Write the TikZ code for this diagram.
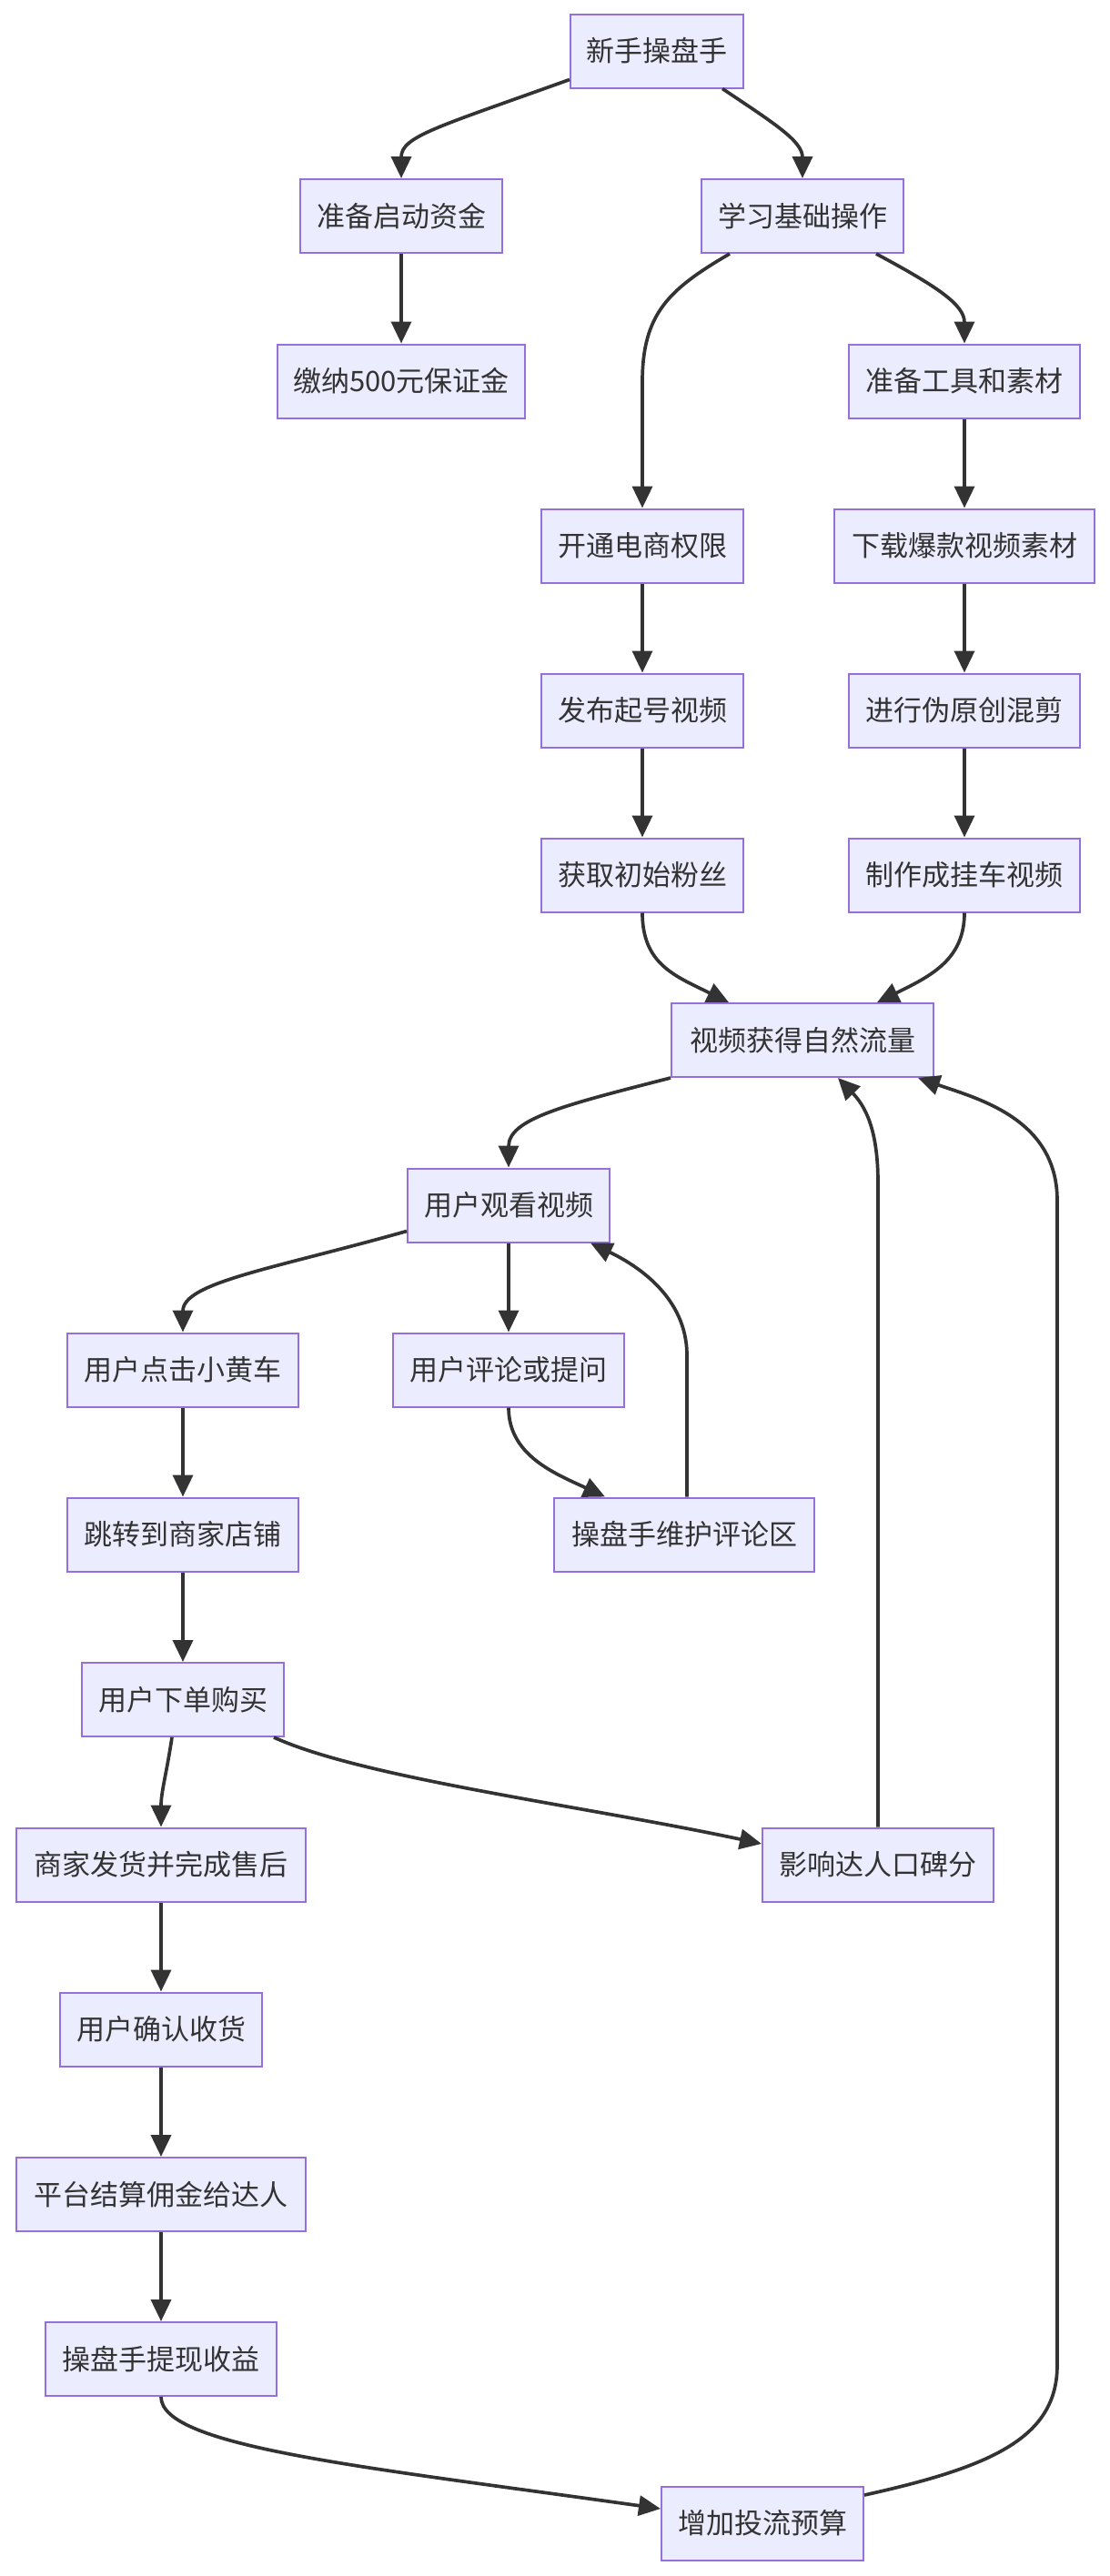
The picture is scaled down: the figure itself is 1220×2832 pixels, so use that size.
\documentclass[tikz,border=0pt]{standalone}
\usepackage{fontspec}
\newfontfamily\cjk{Noto Sans CJK SC}
\usetikzlibrary{arrows.meta}
\definecolor{nodefill}{HTML}{ECECFF}
\definecolor{nodeline}{HTML}{9370DB}
\definecolor{edgec}{HTML}{333333}
\begin{document}
\begin{tikzpicture}[x=1pt,y=-1pt,
  box/.style={draw=nodeline,fill=nodefill,line width=2pt,minimum height=81pt,inner sep=0pt,
    text=edgec,font=\cjk\fontsize{31}{36}\selectfont},
  edge/.style={draw=edgec,line width=3.7pt,-{Triangle[length=24pt,width=22pt]}}]
\useasboundingbox[fill=white] (0,0) rectangle (1220,2832);
\node[box,minimum width=190pt] (n1) at (722,56) {新手操盘手};
\node[box,minimum width=222pt] (n2) at (441,237.5) {准备启动资金};
\node[box,minimum width=222pt] (n3) at (882,237.5) {学习基础操作};
\node[box,minimum width=272pt] (n4) at (441,419) {缴纳500元保证金};
\node[box,minimum width=254pt] (n5) at (1060,419) {准备工具和素材};
\node[box,minimum width=222pt] (n6) at (706,600) {开通电商权限};
\node[box,minimum width=286pt] (n7) at (1060,600) {下载爆款视频素材};
\node[box,minimum width=222pt] (n8) at (706,781) {发布起号视频};
\node[box,minimum width=254pt] (n9) at (1060,781) {进行伪原创混剪};
\node[box,minimum width=222pt] (n10) at (706,962) {获取初始粉丝};
\node[box,minimum width=254pt] (n11) at (1060,962) {制作成挂车视频};
\node[box,minimum width=288pt] (n12) at (882,1143.5) {视频获得自然流量};
\node[box,minimum width=222pt] (n13) at (559,1325) {用户观看视频};
\node[box,minimum width=254pt] (n14) at (201,1506) {用户点击小黄车};
\node[box,minimum width=254pt] (n15) at (559,1506) {用户评论或提问};
\node[box,minimum width=286pt] (n16) at (752,1687) {操盘手维护评论区};
\node[box,minimum width=254pt] (n17) at (201,1687) {跳转到商家店铺};
\node[box,minimum width=222pt] (n18) at (201,1868.5) {用户下单购买};
\node[box,minimum width=318pt] (n19) at (177,2050) {商家发货并完成售后};
\node[box,minimum width=254pt] (n20) at (965,2050) {影响达人口碑分};
\node[box,minimum width=222pt] (n21) at (177,2231) {用户确认收货};
\node[box,minimum width=318pt] (n22) at (177,2412.5) {平台结算佣金给达人};
\node[box,minimum width=254pt] (n23) at (177,2593.5) {操盘手提现收益};
\node[box,minimum width=222pt] (n24) at (838,2774) {增加投流预算};

\draw[edge] ([yshift=10pt]n1.south west) .. controls (480,140) and (441,150) .. (n2.north);
\draw[edge] ([xshift=-24pt]n1.south east) .. controls (850,135) and (882,155) .. (n3.north);
\draw[edge] (n2.south) -- (n4.north);
\draw[edge] ([xshift=32pt]n3.south west) .. controls (735,318) and (706,345) .. (706,420) -- (n6.north);
\draw[edge] ([xshift=-31pt]n3.south east) .. controls (1030,315) and (1060,335) .. (n5.north);
\draw[edge] (n5.south) -- (n7.north);
\draw[edge] (n6.south) -- (n8.north);
\draw[edge] (n7.south) -- (n9.north);
\draw[edge] (n8.south) -- (n10.north);
\draw[edge] (n9.south) -- (n11.north);
\draw[edge] (n10.south) .. controls (706,1060) and (742,1073) .. ([xshift=64pt]n12.north west);
\draw[edge] (n11.south) .. controls (1060,1055) and (1023,1073) .. ([xshift=-63pt]n12.north east);
\draw[edge] (n12.south west) .. controls (620,1215) and (559,1230) .. (n13.north);
\draw[edge] ([yshift=13pt]n13.south west) .. controls (300,1395) and (201,1410) .. (n14.north);
\draw[edge] (n13.south) -- (n15.north);
\draw[edge] (n15.south) .. controls (559,1600) and (610,1620) .. ([xshift=57pt]n16.north west);
\draw[edge] ([xshift=3pt]n16.north) -- (755,1490) .. controls (755,1425) and (698,1390) .. ([xshift=-22pt]n13.south east);
\draw[edge] (n14.south) -- (n17.north);
\draw[edge] (n17.south) -- (n18.north);
\draw[edge] ([xshift=-12pt]n18.south) .. controls (183,1950) and (177,1970) .. (n19.north);
\draw[edge] ([xshift=-12pt]n18.south east) .. controls (400,1955) and (640,1985) .. ([yshift=23pt]n20.west);
\draw[edge] (n19.south) -- (n21.north);
\draw[edge] (n21.south) -- (n22.north);
\draw[edge] (n22.south) -- (n23.north);
\draw[edge] (n23.south) .. controls (177,2690) and (400,2712) .. ([yshift=16pt]n24.west);
\draw[edge] ([yshift=31pt]n24.east) .. controls (1090,2712) and (1162,2680) .. (1162,2600) -- (1162,1320) .. controls (1162,1230) and (1075,1208) .. ([xshift=-18pt]n12.south east);
\draw[edge] (n20.north) -- (965,1300) .. controls (965,1240) and (950,1215) .. ([xshift=39pt]n12.south);
\end{tikzpicture}
\end{document}
